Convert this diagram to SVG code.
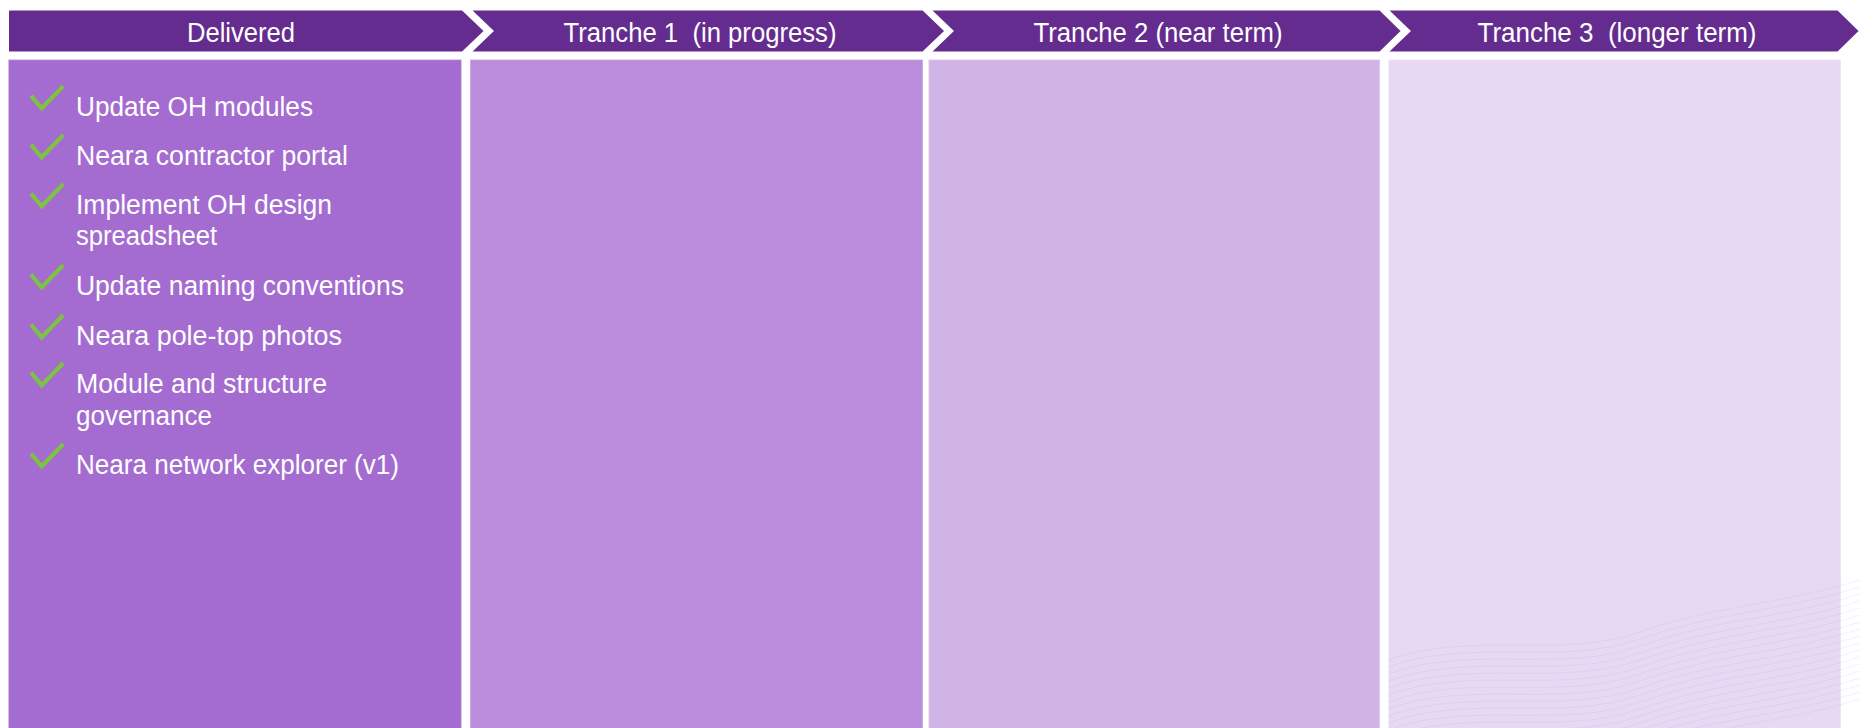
<svg xmlns="http://www.w3.org/2000/svg" width="1860" height="728" viewBox="0 0 1860 728">
<style>
.hdr{fill:#652C90;stroke:#FFFFFF;stroke-width:2}
.ht{font-family:"Liberation Sans",Arial,sans-serif;font-size:27px;fill:#FFFFFF;text-anchor:middle}
.it{font-family:"Liberation Sans",Arial,sans-serif;font-size:27px;fill:#FFFFFF}
.col{stroke:#FFFFFF;stroke-opacity:0.35;stroke-width:1.5}
.wave{fill:none;stroke:#A893CC;stroke-opacity:0.16;stroke-width:0.9}
</style>
<defs>
<path id="chk" d="M31 -20.3 L41.7 -7.7 L63.3 -30" fill="none" stroke="#7DC242" stroke-width="4.2" stroke-linejoin="miter"/>
<clipPath id="waveclip"><rect x="1388" y="470" width="472" height="258"/></clipPath>
</defs>
<rect x="0" y="0" width="1860" height="728" fill="#FFFFFF"/>

<g id="col-delivered">
<rect class="col" x="8.3" y="59.5" width="453.3" height="670" fill="#A46CD0"/>
<path class="hdr" d="M8 9.5 L462.5 9.5 L485 31 L462.5 52.5 L8 52.5 Z"/>
<text class="ht" x="241" y="41.5" textLength="108" lengthAdjust="spacingAndGlyphs">Delivered</text>
<g id="items">
<use href="#chk" transform="translate(0,116)"/>
<text class="it" x="76" y="116" textLength="237" lengthAdjust="spacingAndGlyphs">Update OH modules</text>
<use href="#chk" transform="translate(0,165)"/>
<text class="it" x="76" y="165" textLength="272" lengthAdjust="spacingAndGlyphs">Neara contractor portal</text>
<use href="#chk" transform="translate(0,214)"/>
<text class="it"><tspan x="76" y="214" textLength="256" lengthAdjust="spacingAndGlyphs">Implement OH design</tspan><tspan x="76" y="245" textLength="141" lengthAdjust="spacingAndGlyphs">spreadsheet</tspan></text>
<use href="#chk" transform="translate(0,295)"/>
<text class="it" x="76" y="295" textLength="328" lengthAdjust="spacingAndGlyphs">Update naming conventions</text>
<use href="#chk" transform="translate(0,345)"/>
<text class="it" x="76" y="345" textLength="266" lengthAdjust="spacingAndGlyphs">Neara pole-top photos</text>
<use href="#chk" transform="translate(0,393)"/>
<text class="it"><tspan x="76" y="393" textLength="251" lengthAdjust="spacingAndGlyphs">Module and structure</tspan><tspan x="76" y="425" textLength="136" lengthAdjust="spacingAndGlyphs">governance</tspan></text>
<use href="#chk" transform="translate(0,474)"/>
<text class="it" x="76" y="474" textLength="323" lengthAdjust="spacingAndGlyphs">Neara network explorer (v1)</text>
</g>
</g>

<g id="col-tranche1">
<rect class="col" x="470" y="59.5" width="453" height="670" fill="#BA8EDC"/>
<path class="hdr" d="M470 9.5 L923 9.5 L945.5 31 L923 52.5 L470 52.5 L492.5 31 Z"/>
<text class="ht" x="700" y="41.5" textLength="273" lengthAdjust="spacingAndGlyphs" xml:space="preserve">Tranche 1  (in progress)</text>
</g>

<g id="col-tranche2">
<rect class="col" x="928.5" y="59.5" width="451.5" height="670" fill="#D1B4E6"/>
<path class="hdr" d="M930 9.5 L1380 9.5 L1402 31 L1380 52.5 L930 52.5 L952.5 31 Z"/>
<text class="ht" x="1158" y="41.5" textLength="249" lengthAdjust="spacingAndGlyphs">Tranche 2 (near term)</text>
</g>

<g id="col-tranche3">
<rect class="col" x="1388.3" y="59.5" width="452.7" height="670" fill="#E7D9F3"/>
<g id="texture" clip-path="url(#waveclip)">
<path class="wave" d="M1388 660 C1470 630,1560 660,1640 632 S1780 605,1860 580"/>
<path class="wave" d="M1388 667 C1470 637,1560 667,1640 639 S1780 612,1860 587"/>
<path class="wave" d="M1388 674 C1470 644,1560 674,1640 646 S1780 619,1860 594"/>
<path class="wave" d="M1388 681 C1470 651,1560 681,1640 653 S1780 626,1860 601"/>
<path class="wave" d="M1388 688 C1470 658,1560 688,1640 660 S1780 633,1860 608"/>
<path class="wave" d="M1388 695 C1470 665,1560 695,1640 667 S1780 640,1860 615"/>
<path class="wave" d="M1388 702 C1470 672,1560 702,1640 674 S1780 647,1860 622"/>
<path class="wave" d="M1388 709 C1470 679,1560 709,1640 681 S1780 654,1860 629"/>
<path class="wave" d="M1388 716 C1470 686,1560 716,1640 688 S1780 661,1860 636"/>
<path class="wave" d="M1388 723 C1470 693,1560 723,1640 695 S1780 668,1860 643"/>
<path class="wave" d="M1388 730 C1470 700,1560 730,1640 702 S1780 675,1860 650"/>
<path class="wave" d="M1388 737 C1470 707,1560 737,1640 709 S1780 682,1860 657"/>
<path class="wave" d="M1388 744 C1470 714,1560 744,1640 716 S1780 689,1860 664"/>
<path class="wave" d="M1388 751 C1470 721,1560 751,1640 723 S1780 696,1860 671"/>
<path class="wave" d="M1388 758 C1470 728,1560 758,1640 730 S1780 703,1860 678"/>
<path class="wave" d="M1388 765 C1470 735,1560 765,1640 737 S1780 710,1860 685"/>
<path class="wave" d="M1388 772 C1470 742,1560 772,1640 744 S1780 717,1860 692"/>
<path class="wave" d="M1388 779 C1470 749,1560 779,1640 751 S1780 724,1860 699"/>
</g>
<path class="hdr" d="M1387 9.5 L1838 9.5 L1860 31 L1838 52.5 L1387 52.5 L1409.5 31 Z"/>
<text class="ht" x="1617" y="41.5" textLength="279" lengthAdjust="spacingAndGlyphs" xml:space="preserve">Tranche 3  (longer term)</text>
</g>

<g id="connectors"></g>
</svg>
